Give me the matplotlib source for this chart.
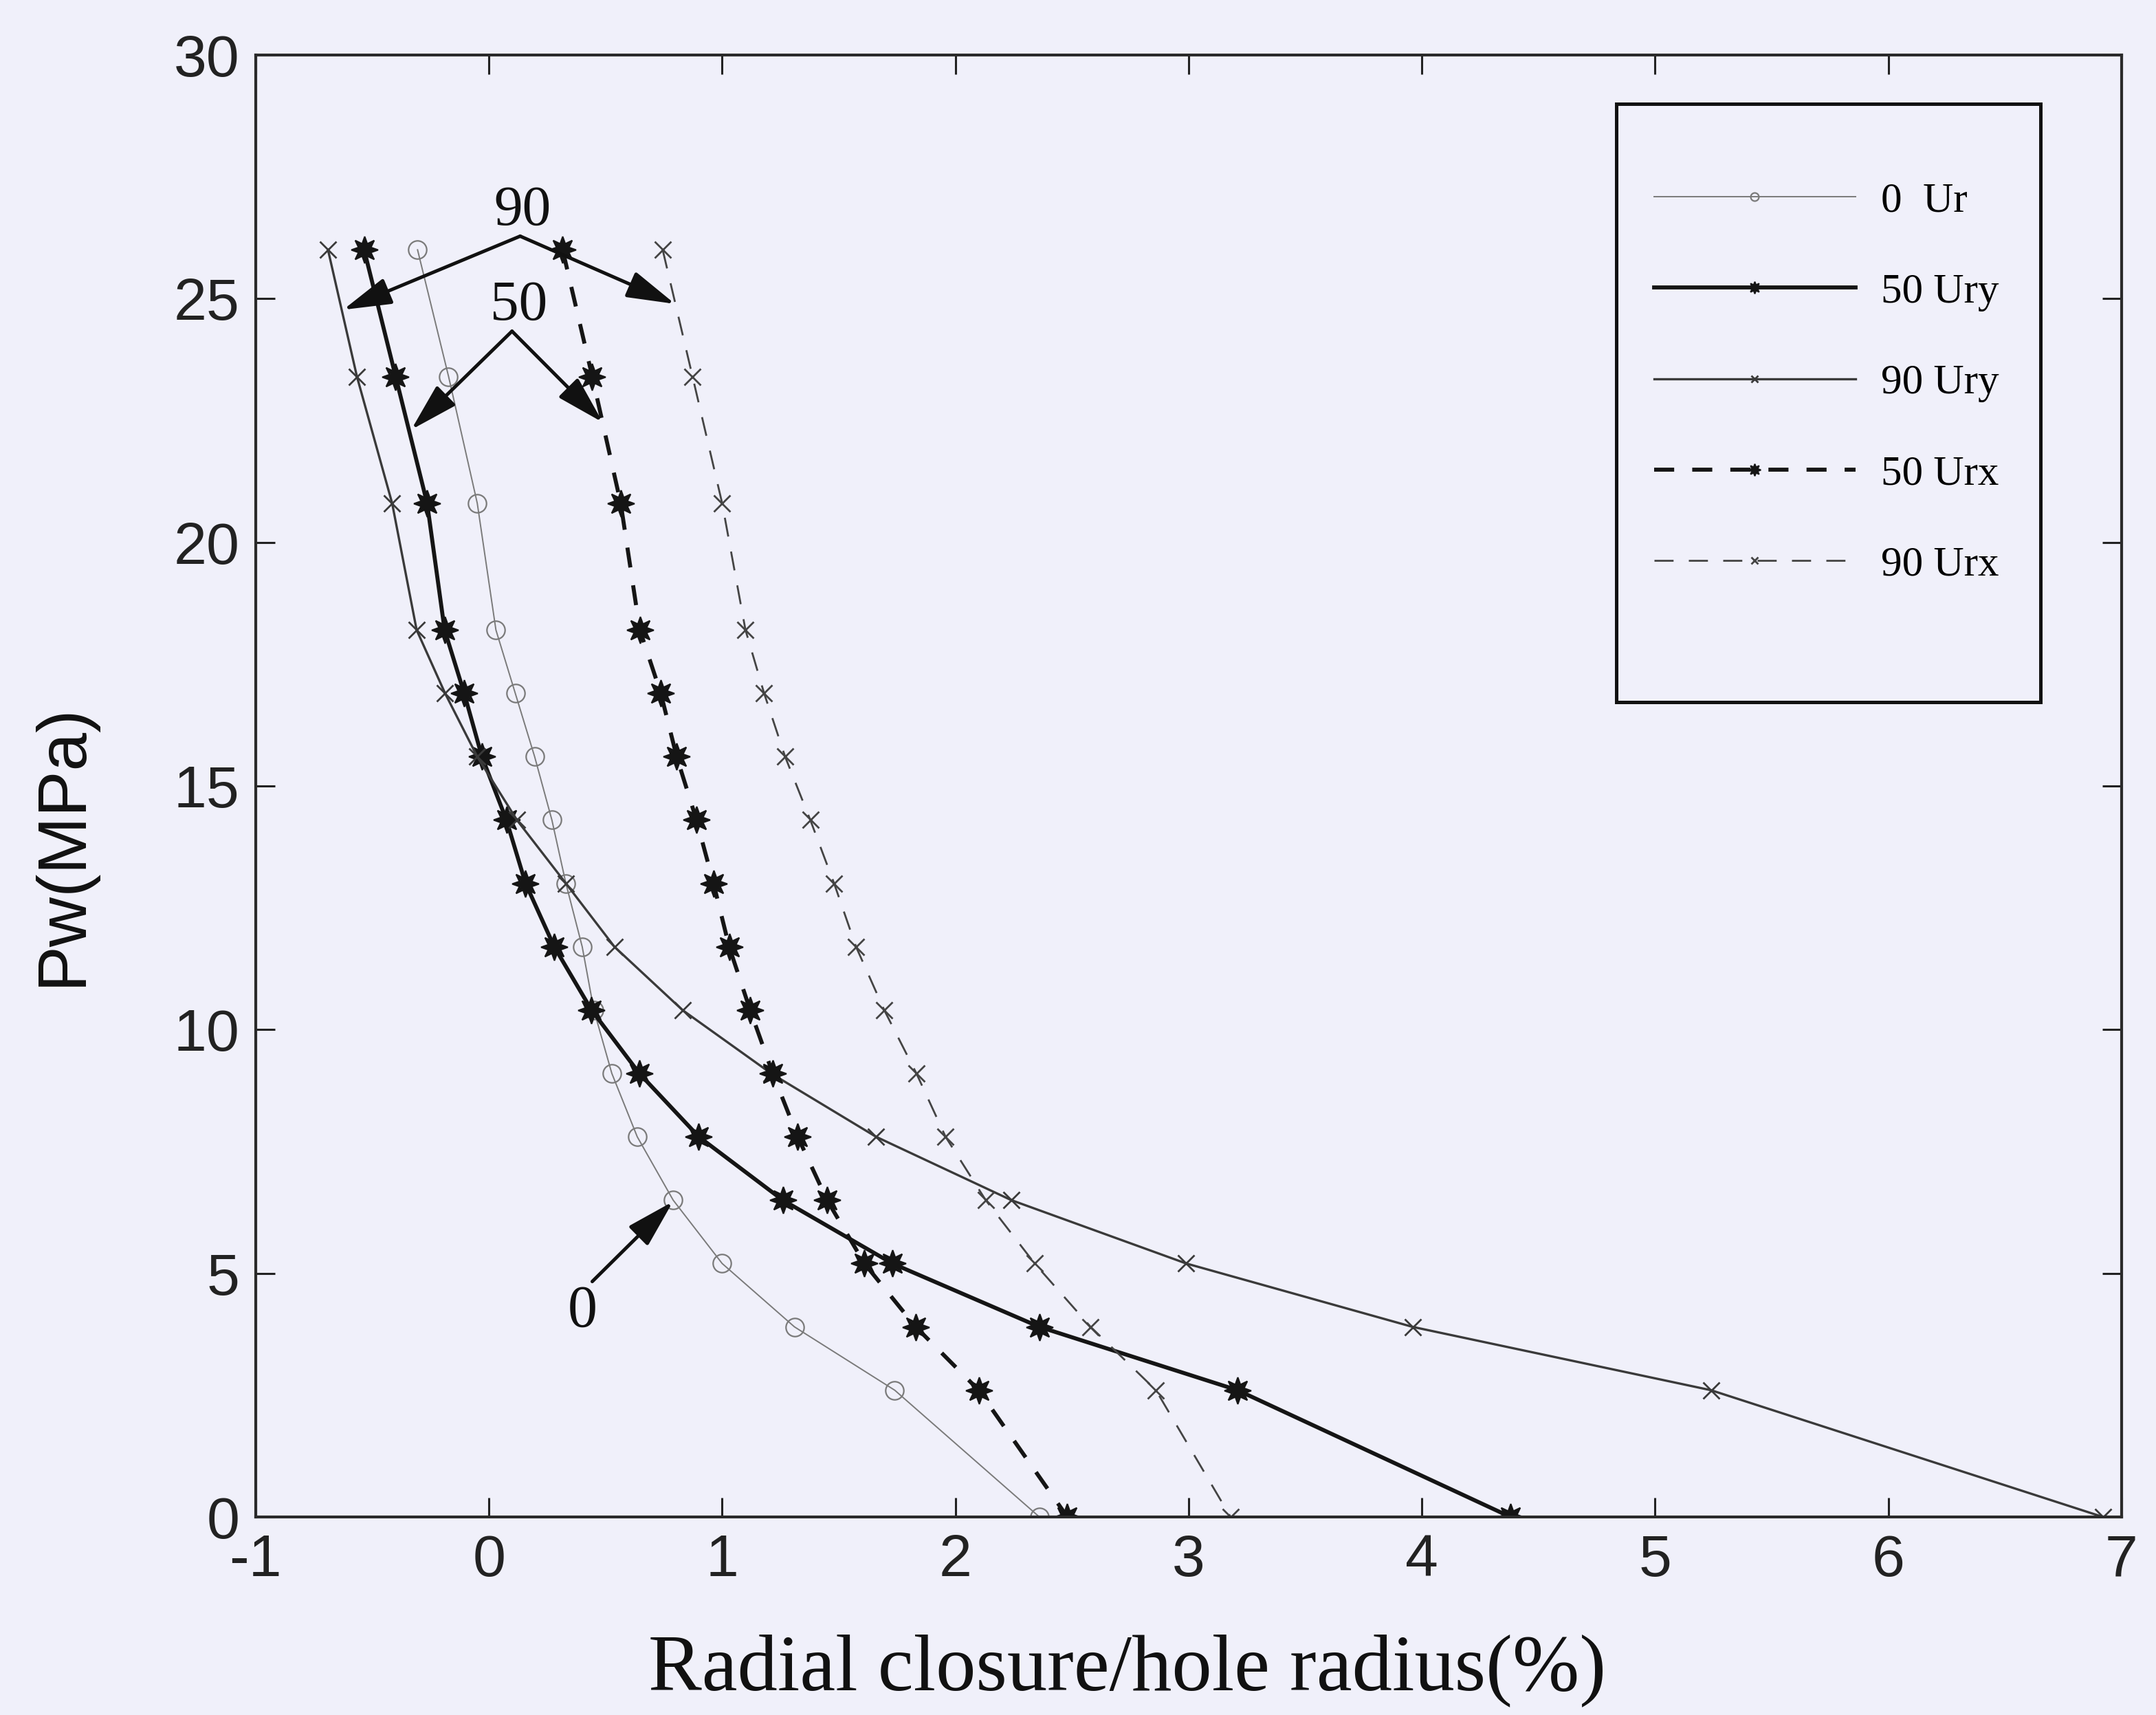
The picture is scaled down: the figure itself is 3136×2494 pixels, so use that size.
import numpy as np
import matplotlib
matplotlib.use('Agg')
import matplotlib.pyplot as plt
from matplotlib.patches import Rectangle

# Support pressure levels (MPa)
pw = [26.0, 23.4, 20.8, 18.2, 16.9, 15.6, 14.3, 13.0, 11.7, 10.4, 9.1, 7.8, 6.5, 5.2, 3.9, 2.6, 0.0]

# Radial closure / hole radius (%) for each curve
ur_0 = [-0.306, -0.173, -0.05, 0.03, 0.113, 0.196, 0.27, 0.33, 0.40, 0.45,
        0.527, 0.636, 0.79, 1.00, 1.31, 1.74, 2.36]
ury_50 = [-0.535, -0.40, -0.265, -0.19, -0.106, -0.03, 0.075, 0.157, 0.28, 0.44,
          0.645, 0.90, 1.26, 1.73, 2.36, 3.21, 4.38]
ury_90 = [-0.69, -0.566, -0.415, -0.31, -0.188, -0.05, 0.12, 0.33, 0.538, 0.83,
          1.21, 1.66, 2.24, 2.99, 3.96, 5.24, 6.92]
urx_50 = [0.316, 0.443, 0.565, 0.647, 0.737, 0.805, 0.89, 0.963, 1.03, 1.12,
          1.217, 1.324, 1.45, 1.61, 1.83, 2.10, 2.48]
urx_90 = [0.745, 0.873, 1.00, 1.10, 1.18, 1.27, 1.378, 1.48, 1.574, 1.695,
          1.833, 1.958, 2.13, 2.34, 2.58, 2.86, 3.18]

labels = ['0  Ur', '50 Ury', '90 Ury', '50 Urx', '90 Urx']
xticks = [-1, 0, 1, 2, 3, 4, 5, 6, 7]
yticks = [0, 5, 10, 15, 20, 25, 30]

bg = '#f0f0fa'
serif = 'Liberation Serif'
sans = 'Liberation Sans'
star = (8, 1, 0)

fig = plt.figure(figsize=(31.36, 24.94), dpi=100, facecolor=bg)
ax = fig.add_axes([0.1186, 0.1155, 0.984 - 0.1186, 0.968 - 0.1155], facecolor=bg)

ax.plot(ur_0, pw, color='#7a7a7a', lw=1.4, marker='o', ms=19, mfc='none',
        mec='#7a7a7a', mew=1.6, label=labels[0])
ax.plot(ury_50, pw, color='#151515', lw=4.2, marker=star, ms=28, mfc='#151515',
        mec='#151515', mew=1.5, label=labels[1])
ax.plot(ury_90, pw, color='#3a3a3a', lw=2.4, marker='x', ms=17, mew=2.0,
        mec='#3a3a3a', label=labels[2])
ax.plot(urx_50, pw, color='#151515', lw=4.2, ls=(0, (5, 4.5)), marker=star, ms=28,
        mfc='#151515', mec='#151515', mew=1.5, label=labels[3])
ax.plot(urx_90, pw, color='#444444', lw=2.0, ls=(0, (10, 8)), marker='x', ms=17,
        mew=2.0, mec='#444444', label=labels[4])

ax.set_xlim(-1, 7)
ax.set_ylim(0, 30)
ax.set_xticks(xticks)
ax.set_yticks(yticks)
ax.set_xticklabels([str(t) for t in xticks], family=sans)
ax.set_yticklabels([str(t) for t in yticks], family=sans)
ax.tick_params(direction='in', length=20, width=2.2, top=True, right=True,
               labelsize=62, pad=17, colors='#222222')
for s in ax.spines.values():
    s.set_linewidth(3)
    s.set_color('#2a2a2a')

ax.set_xlabel('Radial closure/hole radius(%)', family=serif, fontsize=84, color='#111111')
ax.xaxis.set_label_coords(0.467, -0.08)
ax.set_ylabel('Pw(MPa)', family=sans, fontsize=72, color='#111111')
ax.yaxis.set_label_coords(-0.086, 0.46)

# arrows for the annotations
akw = dict(arrowstyle='-|>,head_length=1.6,head_width=0.45', lw=3.6,
           color='#111111', mutation_scale=27, shrinkA=0, shrinkB=0)
ax.annotate('', xy=(-0.625, 24.77), xytext=(0.134, 26.28), arrowprops=akw)
ax.annotate('', xy=(0.798, 24.89), xytext=(0.134, 26.28), arrowprops=akw)
ax.annotate('', xy=(-0.333, 22.31), xytext=(0.099, 24.33), arrowprops=akw)
ax.annotate('', xy=(0.488, 22.46), xytext=(0.099, 24.33), arrowprops=akw)
ax.annotate('', xy=(0.789, 6.47), xytext=(0.443, 4.83), arrowprops=akw)
ax.text(0.143, 26.8, '90', family=serif, fontsize=60, ha='center', va='center', color='#111111')
ax.text(0.128, 24.85, '50', family=serif, fontsize=60, ha='center', va='center', color='#111111')
ax.text(0.40, 4.2, '0', family=serif, fontsize=62, ha='center', va='center', color='#111111')

# legend with a heavy frame drawn separately
leg = ax.legend(loc='upper left', bbox_to_anchor=(0.7494, 0.913), borderaxespad=0,
                borderpad=0, frameon=False, prop={'family': serif, 'size': 44},
                handlelength=4.8, handletextpad=0.6, labelspacing=1.25,
                markerscale=0.45, numpoints=1)
ax.add_patch(Rectangle((0.7292, 0.5574), 0.2273, 0.4092, transform=ax.transAxes,
                       fill=False, lw=3.6, edgecolor='#111111', zorder=5, clip_on=False))

fig.savefig('out.png', dpi=100, facecolor=bg)
